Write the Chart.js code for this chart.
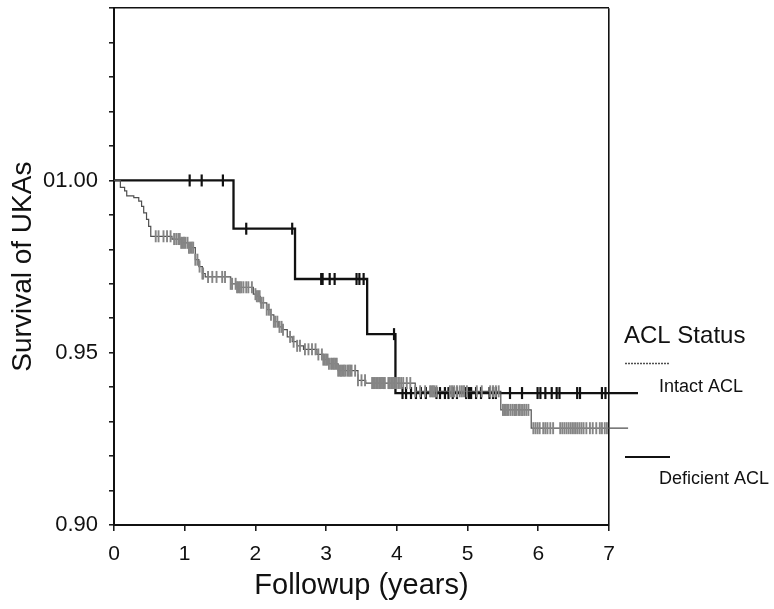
<!DOCTYPE html>
<html>
<head>
<meta charset="utf-8">
<script src="https://cdn.jsdelivr.net/npm/chart.js@4.4.1/dist/chart.umd.min.js"></script>
<style>
html,body{margin:0;padding:0;background:#fff;}
#wrap{width:774px;height:609px;position:relative;}
</style>
</head>
<body>
<div id="wrap"><canvas id="c" width="774" height="609"></canvas></div>
<script>
// ---- Data ----
const xTickValues = [0, 1, 2, 3, 4, 5, 6, 7];
const xTickLabels = ['0', '1', '2', '3', '4', '5', '6', '7'];
const yTickValues = [0.90, 0.95, 1.00];
const yTickLabels = ['0.90', '0.95', '01.00'];
const seriesNames = ['Intact ACL', 'Deficient ACL'];
const legendTitle = 'ACL Status';
const xTitle = 'Followup (years)';
const yTitle = 'Survival of UKAs';

// Deficient ACL: event times and survival after each event
const deficientTimes = [0, 1.69, 2.56, 3.58, 3.98, 7.41];
const deficientSurv  = [1.000, 0.9860, 0.9714, 0.9554, 0.9383, 0.9383];
const deficientCensor = [1.07, 1.24, 1.54, 1.87, 2.52, 2.93, 2.95, 3.05, 3.12, 3.43, 3.47, 3.53, 3.96,
  4.08, 4.13, 4.20, 4.27, 4.34, 4.41, 4.56, 4.61, 4.68, 4.73, 4.79, 4.85, 4.98, 5.02, 5.05, 5.12, 5.19,
  5.31, 5.36, 5.40, 5.60, 5.77, 5.99, 6.03, 6.10, 6.19, 6.26, 6.30, 6.55, 6.59, 6.90, 6.95];

// Intact ACL: event times and survival after each event
const intactTimes = [0, 0.09, 0.15, 0.18, 0.28, 0.35, 0.39, 0.42, 0.46, 0.49, 0.52, 0.82, 0.95, 1.06,
  1.15, 1.20, 1.25, 1.29, 1.65, 1.74, 1.97, 2.02, 2.07, 2.16, 2.21, 2.26, 2.33, 2.38, 2.45, 2.52, 2.59,
  2.68, 2.87, 2.96, 3.04, 3.17, 3.45, 3.56, 4.26, 5.47, 5.90, 7.27];
const intactSurv = [1.000, 0.998, 0.997, 0.9955, 0.995, 0.994, 0.9925, 0.9906, 0.9887, 0.9867, 0.9838,
  0.9830, 0.9819, 0.9805, 0.9770, 0.9750, 0.9730, 0.9720, 0.9700, 0.9690, 0.9670, 0.9664, 0.9645, 0.9625,
  0.9610, 0.9590, 0.9575, 0.9567, 0.9546, 0.9532, 0.9520, 0.9510, 0.9495, 0.9480, 0.9468, 0.9448, 0.9420,
  0.9412, 0.9388, 0.9334, 0.9281, 0.9281];
const intactCensor = [0.59, 0.63, 0.70, 0.75, 0.80, 0.85, 0.88, 0.91, 0.93, 0.95, 0.97, 0.99, 1.01, 1.04,
  1.06, 1.08, 1.10, 1.12, 1.15, 1.18, 1.21, 1.25, 1.26, 1.33, 1.39, 1.45, 1.53, 1.57, 1.65, 1.67, 1.72,
  1.74, 1.76, 1.78, 1.80, 1.83, 1.87, 1.90, 1.95, 2.00, 2.02, 2.04, 2.06, 2.08, 2.11, 2.16, 2.19, 2.22,
  2.26, 2.28, 2.31, 2.34, 2.37, 2.39, 2.49, 2.54, 2.59, 2.63, 2.70, 2.75, 2.80, 2.85, 2.89, 2.94, 2.96,
  2.98, 3.00, 3.02, 3.04, 3.07, 3.09, 3.11, 3.13, 3.15, 3.17, 3.19, 3.21, 3.23, 3.25, 3.27, 3.30, 3.32,
  3.34, 3.36, 3.41, 3.45, 3.50, 3.55, 3.65, 3.67, 3.69, 3.71, 3.73, 3.75, 3.77, 3.79, 3.81, 3.83, 3.88,
  3.90, 3.92, 3.94, 3.96, 3.98, 4.00, 4.03, 4.06, 4.09, 4.14, 4.19, 4.26, 4.33, 4.40, 4.47, 4.49, 4.51,
  4.53, 4.56, 4.75, 4.78, 4.81, 4.85, 4.89, 4.92, 4.95, 4.99, 5.13, 5.20, 5.32, 5.36, 5.40, 5.44, 5.50,
  5.52, 5.54, 5.56, 5.58, 5.61, 5.64, 5.67, 5.69, 5.72, 5.74, 5.77, 5.80, 5.83, 5.86, 5.93, 5.96, 5.99,
  6.02, 6.07, 6.10, 6.13, 6.17, 6.21, 6.31, 6.34, 6.37, 6.40, 6.43, 6.46, 6.49, 6.52, 6.55, 6.58, 6.61,
  6.64, 6.68, 6.73, 6.77, 6.82, 6.87, 6.90, 6.94, 6.97];

// ---- helpers ----
function stepPoints(times, surv) {
  return times.map((t, i) => ({x: t, y: surv[i]}));
}
function survAt(times, surv, t) {
  let v = surv[0];
  for (let i = 0; i < times.length; i++) { if (times[i] <= t) v = surv[i]; }
  return v;
}
function censorPoints(censor, times, surv) {
  return censor.map(t => ({x: t, y: survAt(times, surv, t)}));
}

const FONT = 'Liberation Sans, Arial, Helvetica, sans-serif';
const INK = '#111111';
const GREY_LINE = '#4f4f4f';
const GREY_MARK = '#858585';

const legendPlugin = {
  id: 'acllegend',
  afterDraw(chart) {
    const ctx = chart.ctx;
    ctx.save();
    ctx.fillStyle = INK;
    ctx.textBaseline = 'middle';
    ctx.textAlign = 'left';
    ctx.font = '24px ' + FONT;
    ctx.fillText(legendTitle, 624, 336);
    // Intact sample line
    ctx.strokeStyle = GREY_LINE;
    ctx.lineWidth = 1.3;
    ctx.setLineDash([2, 1]);
    ctx.beginPath(); ctx.moveTo(625, 363.5); ctx.lineTo(670, 363.5); ctx.stroke();
    ctx.setLineDash([]);
    ctx.font = '18px ' + FONT;
    ctx.fillText(seriesNames[0], 659, 387);
    // Deficient sample line
    ctx.strokeStyle = INK;
    ctx.lineWidth = 2.2;
    ctx.beginPath(); ctx.moveTo(625, 457); ctx.lineTo(670, 457); ctx.stroke();
    ctx.fillText(seriesNames[1], 659, 479);
    ctx.restore();
  }
};

new Chart(document.getElementById('c'), {
  type: 'scatter',
  data: {
    datasets: [
      {
        label: seriesNames[0] + ' censored',
        data: censorPoints(intactCensor, intactTimes, intactSurv),
        showLine: false,
        pointStyle: 'line',
        rotation: 90,
        pointRadius: 6,
        pointBorderWidth: 1.9,
        pointBorderColor: GREY_MARK,
        pointBackgroundColor: GREY_MARK,
        clip: false
      },
      {
        label: seriesNames[0],
        data: stepPoints(intactTimes, intactSurv),
        showLine: true,
        stepped: 'before',
        borderColor: GREY_LINE,
        borderWidth: 1.2,
        pointRadius: 0,
        fill: false,
        clip: false
      },
      {
        label: seriesNames[1],
        data: stepPoints(deficientTimes, deficientSurv),
        showLine: true,
        stepped: 'before',
        borderColor: INK,
        borderWidth: 2.3,
        pointRadius: 0,
        fill: false,
        clip: false
      },
      {
        label: seriesNames[1] + ' censored',
        data: censorPoints(deficientCensor, deficientTimes, deficientSurv),
        showLine: false,
        pointStyle: 'line',
        rotation: 90,
        pointRadius: 6,
        pointBorderWidth: 2.2,
        pointBorderColor: INK,
        pointBackgroundColor: INK,
        clip: false
      }
    ]
  },
  options: {
    responsive: false,
    animation: false,
    events: [],
    layout: {padding: {left: 0, right: 165, top: 8, bottom: 0}},
    plugins: {legend: {display: false}, tooltip: {enabled: false}},
    scales: {
      x: {
        type: 'linear',
        min: 0, max: 7,
        afterFit(scale) { scale.height = 84; scale.paddingLeft = 0; scale.paddingRight = 0; },
        afterBuildTicks(scale) { scale.ticks = xTickValues.map(v => ({value: v})); },
        ticks: {
          autoSkip: false,
          maxRotation: 0,
          padding: 11,
          color: INK,
          font: {family: FONT, size: 21},
          callback(value) {
            const i = xTickValues.findIndex(v => Math.abs(v - value) < 1e-6);
            return i >= 0 ? xTickLabels[i] : '';
          }
        },
        grid: {
          drawOnChartArea: true,
          drawTicks: true,
          tickLength: 6,
          tickColor: INK,
          tickWidth: 1.5,
          lineWidth: 1.6,
          color(ctx) { return ctx.tick && Math.abs(ctx.tick.value - 7) < 1e-6 ? INK : 'rgba(0,0,0,0)'; }
        },
        border: {display: true, color: INK, width: 2},
        title: {
          display: true,
          text: xTitle,
          color: INK,
          font: {family: FONT, size: 29},
          padding: {top: 0, bottom: 6}
        }
      },
      y: {
        type: 'linear',
        min: 0.90, max: 1.05,
        afterFit(scale) { scale.width = 114; scale.paddingTop = 0; scale.paddingBottom = 0; },
        afterBuildTicks(scale) {
          const t = [];
          for (let k = 90; k <= 105; k++) t.push({value: k / 100});
          scale.ticks = t;
        },
        ticks: {
          autoSkip: false,
          padding: 11,
          color: INK,
          font: {family: FONT, size: 22},
          callback(value) {
            const i = yTickValues.findIndex(v => Math.abs(v - value) < 1e-6);
            return i >= 0 ? yTickLabels[i] : '';
          }
        },
        grid: {
          drawOnChartArea: true,
          drawTicks: true,
          tickLength: 5,
          tickColor: INK,
          tickWidth: 1.5,
          lineWidth: 1.6,
          color(ctx) { return ctx.tick && Math.abs(ctx.tick.value - 1.05) < 1e-6 ? INK : 'rgba(0,0,0,0)'; }
        },
        border: {display: true, color: INK, width: 2},
        title: {
          display: true,
          text: yTitle,
          color: INK,
          font: {family: FONT, size: 28},
          padding: {top: 6, bottom: 0}
        }
      }
    }
  },
  plugins: [legendPlugin]
});
</script>
</body>
</html>
